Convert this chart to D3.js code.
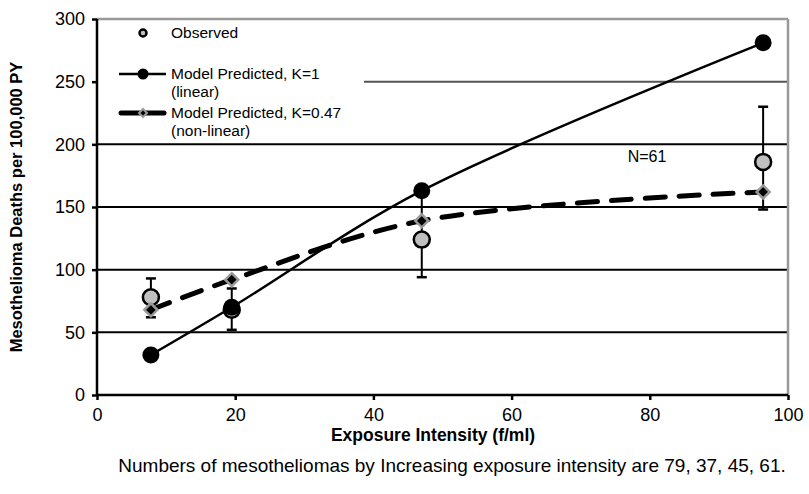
<!DOCTYPE html>
<html><head><meta charset="utf-8">
<script src="https://cdn.jsdelivr.net/npm/d3@7"></script>
<style>
body{margin:0;background:#fff;}
svg{display:block;font-family:"Liberation Sans",Arial,sans-serif;}
</style></head>
<body><svg id="chart" width="809" height="494"></svg>
<script>
// ---- data ----
const exposure = [7.8, 19.5, 47.0, 96.4];
const observed = [78, 68, 124, 186];
const obsLow = [62, 52, 94, 148];
const obsHigh = [93, 85, 163, 230];
const modelLinear = [32, 70, 163, 281];
const modelNonLinear = [68, 92, 139, 162];
const xTicks = [0, 20, 40, 60, 80, 100];
const yTicks = [0, 50, 100, 150, 200, 250, 300];
const xTitle = "Exposure Intensity (f/ml)";
const yTitle = "Mesothelioma Deaths per 100,000 PY";
const caption = "Numbers of mesotheliomas by Increasing exposure intensity are 79, 37, 45, 61.";
const legendLabels = [["Observed"], ["Model Predicted, K=1", "(linear)"], ["Model Predicted, K=0.47", "(non-linear)"]];
const annotation = {x: 76.8, y: 190, text: "N=61"};

const svg = d3.select("#chart");
const L = 97, R = 788, T = 19, B = 395;
const x = d3.scaleLinear().domain([0, 100]).range([L, R]);
const y = d3.scaleLinear().domain([0, 300]).range([B, T]);

// gridlines
const g = svg.append("g");
g.selectAll("line.grid").data(yTicks.filter(d => d > 0 && d < 300)).enter().append("line")
  .attr("x1", L).attr("x2", R).attr("y1", d => y(d)).attr("y2", d => y(d))
  .attr("stroke", d => d === 250 ? "#555" : "#000").attr("stroke-width", 2);
// top & right border
svg.append("line").attr("x1", L).attr("x2", R).attr("y1", y(300)).attr("y2", y(300)).attr("stroke", "#999").attr("stroke-width", 2.5);
svg.append("line").attr("x1", R).attr("x2", R).attr("y1", y(300)).attr("y2", B).attr("stroke", "#999").attr("stroke-width", 2.5);

// legend box (white, covers gridline)
svg.append("rect").attr("x", L + 1).attr("y", T + 2).attr("width", 266).attr("height", 120).attr("fill", "#fff");

// axes
const xAxis = svg.append("g").attr("transform", `translate(0,${B})`)
  .call(d3.axisBottom(x).tickValues(xTicks).tickSize(5).tickPadding(8));
const yAxis = svg.append("g").attr("transform", `translate(${L},0)`)
  .call(d3.axisLeft(y).tickValues(yTicks).tickSize(5).tickPadding(7));
[xAxis, yAxis].forEach(a => {
  a.select(".domain").attr("stroke", "#000").attr("stroke-width", 2.5);
  a.selectAll(".tick line").attr("stroke", "#000").attr("stroke-width", 2.5);
  a.selectAll(".tick text").attr("font-size", 18).attr("fill", "#000").attr("font-family", "Liberation Sans, Arial, sans-serif");
});
xAxis.select(".domain").attr("d", `M${L},0H${R}`);
yAxis.select(".domain").attr("d", `M0,${T}V${B}`);

// lines
const pts = (arr) => exposure.map((e, i) => [x(e), y(arr[i])]);
const curve = d3.curveCatmullRom.alpha(0.5);
svg.append("path").attr("d", d3.line().curve(curve)(pts(modelNonLinear)))
  .attr("fill", "none").attr("stroke", "#000").attr("stroke-width", 5)
  .attr("stroke-dasharray", "20,14").attr("stroke-linecap", "round");
svg.append("path").attr("d", d3.line().curve(curve)(pts(modelLinear)))
  .attr("fill", "none").attr("stroke", "#000").attr("stroke-width", 2.5);

// error bars
const eb = svg.append("g");
exposure.forEach((e, i) => {
  eb.append("line").attr("x1", x(e)).attr("x2", x(e)).attr("y1", y(obsLow[i])).attr("y2", y(obsHigh[i])).attr("stroke", "#000").attr("stroke-width", 2);
  [obsLow[i], obsHigh[i]].forEach(v => eb.append("line").attr("x1", x(e) - 5).attr("x2", x(e) + 5).attr("y1", y(v)).attr("y2", y(v)).attr("stroke", "#000").attr("stroke-width", 2.5));
});

// observed markers
svg.append("g").selectAll("circle").data(observed).enter().append("circle")
  .attr("cx", (d, i) => x(exposure[i])).attr("cy", d => y(d)).attr("r", 8)
  .attr("fill", "#c0c0c0").attr("stroke", "#000").attr("stroke-width", 2.5);
// linear model markers
svg.append("g").selectAll("circle").data(modelLinear).enter().append("circle")
  .attr("cx", (d, i) => x(exposure[i])).attr("cy", d => y(d)).attr("r", 8.5).attr("fill", "#000");
// non-linear model markers (diamond)
const diamond = (cx, cy, s) => `M${cx},${cy - s}L${cx + s},${cy}L${cx},${cy + s}L${cx - s},${cy}Z`;
svg.append("g").selectAll("path").data(modelNonLinear).enter().append("path")
  .attr("d", (d, i) => diamond(x(exposure[i]), y(d), 6.5))
  .attr("fill", "#000").attr("stroke", "#999").attr("stroke-width", 2.5);

// annotation
svg.append("text").attr("x", x(annotation.x)).attr("y", y(annotation.y)).attr("dy", "0.35em").attr("font-size", 16).text(annotation.text);

// legend
const lg = svg.append("g").attr("font-size", 15.5);
lg.append("circle").attr("cx", 143).attr("cy", 33).attr("r", 3.5).attr("fill", "#c0c0c0").attr("stroke", "#000").attr("stroke-width", 2.5);
lg.append("line").attr("x1", 119).attr("x2", 166).attr("y1", 74).attr("y2", 74).attr("stroke", "#000").attr("stroke-width", 2.5);
lg.append("circle").attr("cx", 143).attr("cy", 74).attr("r", 5.5).attr("fill", "#000");
lg.append("line").attr("x1", 121).attr("x2", 164).attr("y1", 113).attr("y2", 113).attr("stroke", "#000").attr("stroke-width", 5).attr("stroke-linecap", "round");
lg.append("path").attr("d", diamond(143, 113, 4)).attr("fill", "#000").attr("stroke", "#999").attr("stroke-width", 2);
const ly = [33, 74, 113];
legendLabels.forEach((lines, i) => {
  lines.forEach((t, j) => lg.append("text").attr("x", 171).attr("y", ly[i] + j * 18).attr("dy", "0.35em").text(t));
});

// axis titles
svg.append("text").attr("x", 433).attr("y", 441).attr("text-anchor", "middle")
  .attr("font-size", 17.5).attr("font-weight", "bold").text(xTitle);
svg.append("text").attr("transform", `translate(22,${(T + B) / 2}) rotate(-90)`).attr("text-anchor", "middle")
  .attr("font-size", 16.5).attr("font-weight", "bold").text(yTitle);
svg.append("text").attr("x", 452).attr("y", 472).attr("text-anchor", "middle").attr("font-size", 19).text(caption);
</script></body></html>
